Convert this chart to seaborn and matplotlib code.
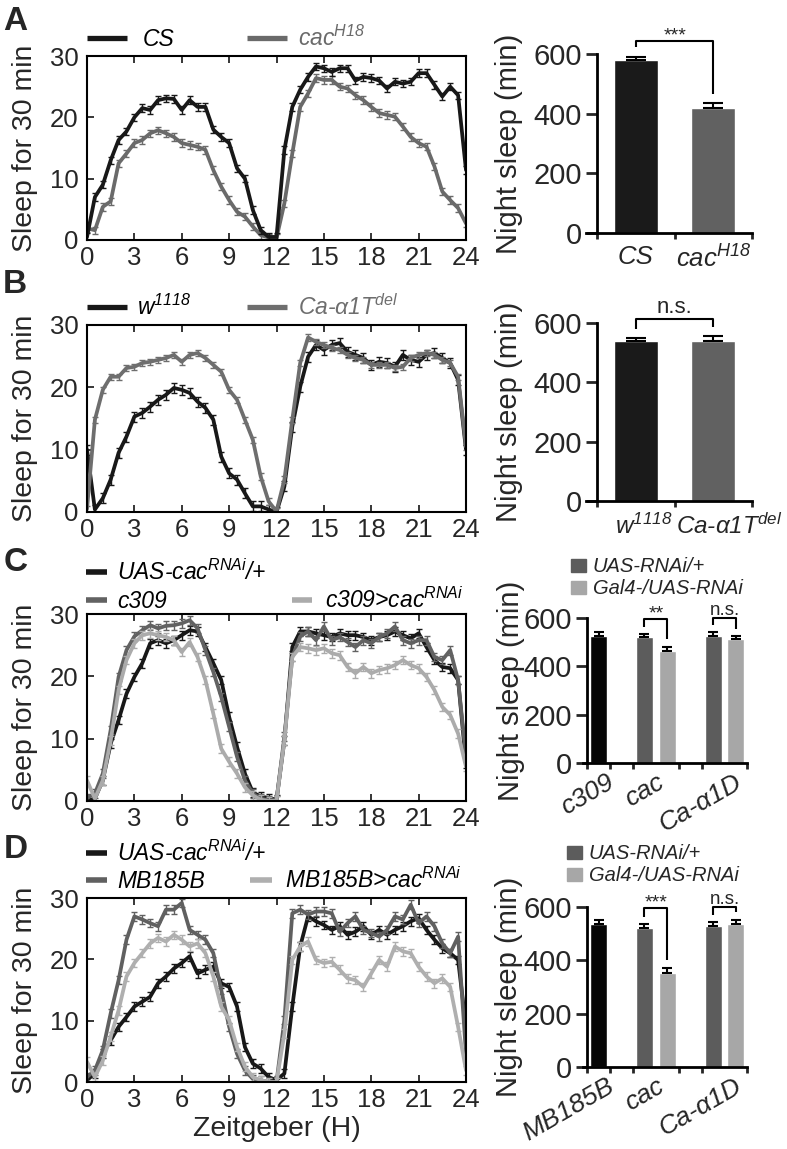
import numpy as np
import pandas as pd
import matplotlib
matplotlib.use("Agg")
import matplotlib.pyplot as plt
from matplotlib.lines import Line2D
from matplotlib.patches import Rectangle
import seaborn as sns

# ---------------- data ----------------
hours = np.arange(0, 24.5, 0.5)

# panel A: sleep profile
A_cs = [0.5, 7, 9, 13, 16.3, 17.7, 20, 21.5, 21.2, 22.8, 23.1, 23, 21.2, 22.8, 21.7, 21.7,
        18, 16.8, 15.8, 11.7, 10, 4.9, 1.6, 0.5, 0.5, 14.7, 21.7, 24.5, 26.6, 28.3, 28, 27.4,
        28, 28, 26, 26.6, 26.4, 26, 24.7, 25.8, 25.5, 25.8, 27.2, 27.2, 25.3, 23.4, 25, 23.6, 11.4]
A_cac = [1.9, 1.6, 5.4, 6.3, 12.5, 14.1, 15.8, 16.3, 17.4, 17.9, 17.4, 16.8, 15.8, 15.5, 15.2, 14.7,
         11.4, 8.7, 6.5, 4.6, 3.8, 2.2, 0.8, 0.4, 0.3, 6, 14.1, 21.7, 23.9, 26.4, 26.1, 26.1,
         25, 24.7, 23.6, 22.8, 21.7, 20.7, 20.4, 20.1, 18.5, 16.8, 15.8, 15.2, 12, 7.9, 6.5, 5.2, 2.7]

# panel B
B_w = [10, 0.4, 2.2, 5.2, 9.5, 12.1, 15.3, 15.9, 16.9, 18, 18.8, 19.9, 19.6, 19.1, 17.7, 16.7,
       14.8, 8.9, 6.2, 5.2, 3, 0.9, 0.9, 0.4, 0, 4.1, 13.7, 20.1, 24.9, 26.8, 26, 26.8,
       27.1, 25.7, 25.2, 24.7, 23.6, 24.1, 23.9, 23.3, 25.2, 24.4, 24.1, 25.2, 25.5, 24.7, 23.9, 21.2, 10]
B_ca = [0.5, 14.8, 19.6, 21.7, 21.7, 23.1, 23.3, 23.9, 24.1, 24.4, 24.7, 25.2, 24.1, 25.2, 25.5, 24.7,
        23.6, 22.5, 19.6, 18, 14.8, 11.6, 5.7, 1.7, 0.1, 5.2, 14.8, 23.9, 28, 27.3, 26.8, 26.3,
        26, 25.2, 24.7, 24.4, 23.6, 23.6, 23.6, 23.1, 23.3, 24.7, 25.2, 25.5, 25.2, 24.4, 23.9, 21.7, 10.5]

# panel C
C_uas = [0, 0.4, 3.3, 9.2, 13, 17.2, 19.9, 22.1, 25.3, 25.8, 25.3, 25.8, 26.6, 27.4, 27.2, 24.7,
         22.1, 19.4, 13.5, 8.7, 4.4, 1.4, 0.7, 0.5, 0.2, 9.7, 24.7, 27.2, 27.2, 26.9, 26.6, 26.3,
         26.9, 26.6, 26.6, 26.3, 25.8, 26.3, 26.6, 27.2, 26.6, 26.1, 26.9, 24.7, 22.6, 21.5, 21.3, 19.4, 6]
C_gal = [0.5, 1.2, 4.4, 11.4, 19.9, 24.2, 26.4, 27.4, 28.2, 27.7, 28.1, 28.2, 28.5, 29, 27.7, 24.2,
         20.7, 16.7, 11.9, 7.1, 3.3, 1.2, 0.4, 0.1, 0.1, 10.3, 23.1, 26.4, 27.2, 25.8, 28, 25.8,
         26.3, 25.5, 24.7, 25.8, 25.3, 26.3, 26.9, 28, 25.8, 25.3, 25.8, 25.8, 23.1, 22.6, 24.2, 19.4, 7.1]
C_kd = [3.3, 0.4, 3.3, 9.7, 17.8, 22.6, 25.3, 26.6, 26.9, 26.6, 26.3, 25.8, 23.9, 25.5, 23.1, 19.4,
        14, 8.4, 6.3, 4.4, 2.2, 0.9, 0.2, 0, 0.1, 9.7, 23.1, 24.7, 24.5, 24.2, 24.5, 23.7,
        23.4, 21.5, 20.5, 21.5, 20.5, 21, 21.3, 21.8, 22.6, 21.8, 21.3, 19.9, 17.8, 15.1, 13.8, 10.8, 5.5]

# panel D
D_uas = [0.3, 1.4, 4.6, 6.8, 9, 10.6, 12.3, 13.1, 13.9, 16.1, 17.2, 18.5, 19.4, 20.5, 17.7, 18.3,
         18.8, 16.1, 15.5, 12.3, 5.7, 3, 2.2, 0.8, 0.3, 1.4, 12.3, 22.1, 27, 26.2, 25.6, 24.8,
         25.4, 24, 24.5, 25.4, 24, 24.8, 24, 24.8, 25.4, 26.2, 26.7, 24.8, 23.2, 21.8, 21, 19.9, 9]
D_gal = [0.8, 1.9, 5.2, 11.2, 16.6, 23.2, 27, 26.5, 25.9, 25.4, 28.1, 28.1, 29.2, 24.8, 24, 23.2,
         21, 15, 9, 4.6, 1.9, 0.5, 0.3, 0, 0, 10.1, 27.5, 28.1, 27.3, 27.8, 27.8, 27.5,
         24.5, 25.9, 27, 24.8, 24.3, 23.7, 24.8, 27, 26.5, 28.9, 25.9, 27, 25.4, 22.6, 21, 23.7, 4.6]
D_kd = [3.3, 0.8, 3.5, 7.4, 11.7, 17.2, 19.4, 21, 22.6, 23.5, 22.9, 24, 23.2, 22.1, 22.6, 21,
        17.2, 12.3, 10.1, 5.7, 2.5, 0.8, 0.3, 0, 0, 7.9, 19.9, 22.1, 22.9, 19.9, 19.4, 19.6,
        18.3, 16.9, 16.6, 15.5, 17.7, 19.9, 18.8, 22.1, 21.3, 21, 18.8, 17.2, 16.1, 16.9, 15.5, 9, 1.9]

# typical SEM of each profile
A_sem = [0.6, 0.6]
B_sem = [0.8, 0.5]
C_sem = [0.7, 0.7, 0.7]
D_sem = [0.7, 0.7, 0.7]

# night sleep bars (min)
A_names = ["CS", "cac$^{H18}$"]
A_night = [580, 420]
A_night_err = [10, 15]
B_names = ["w$^{1118}$", "Ca-α1T$^{del}$"]
B_night = [538, 538]
B_night_err = [11, 17]

groups_C = ["c309", "cac", "Ca-α1D"]
C_ctrl, C_ctrl_err = 527, 15
C_rnai_uas, C_rnai_uas_err = [521, 525], [13, 17]
C_rnai_gal, C_rnai_gal_err = [463, 514], [19, 11]

groups_D = ["MB185B", "cac", "Ca-α1D"]
D_ctrl, D_ctrl_err = 537, 13
D_rnai_uas, D_rnai_uas_err = [523, 527], [13, 16]
D_rnai_gal, D_rnai_gal_err = [353, 537], [18, 13]

# ---------------- style ----------------
W, H = 787, 1149
BLACK = "#181818"
LIGHT = "#ababab"

sns.set_style("ticks")
plt.rcParams["font.family"] = ["Liberation Sans", "DejaVu Sans"]
plt.rcParams["mathtext.fontset"] = "custom"
plt.rcParams["mathtext.rm"] = "Liberation Sans:italic"
plt.rcParams["mathtext.it"] = "Liberation Sans:italic"
plt.rcParams["mathtext.bf"] = "Liberation Sans:bold"

fig = plt.figure(figsize=(W / 100, H / 100), dpi=100)


def fx(x):
    return x / W


def fy(y):
    return 1 - y / H


def box(l, t, r, b):
    return fig.add_axes([l / W, 1 - b / H, (r - l) / W, (b - t) / H])


def legend_line(x0, x1, y, color, label, tx, tcolor="black", lw=3.8, size=16.5):
    fig.add_artist(Line2D([fx(x0), fx(x1)], [fy(y), fy(y)], color=color, lw=lw,
                          solid_capstyle="butt", transform=fig.transFigure))
    fig.text(fx(tx), fy(y + size * 100 / 72 * 0.36), label, color=tcolor, fontsize=size,
             fontstyle="italic", ha="left", va="baseline")


def legend_box(x, y, color, label, size=14.5):
    fig.add_artist(Rectangle((fx(x), fy(y + 7)), 15 / W, 13 / H, color=color,
                             transform=fig.transFigure))
    fig.text(fx(x + 22), fy(y + size * 100 / 72 * 0.36), label, fontsize=size,
             fontstyle="italic", ha="left", va="baseline")


def profile_panel(top, bottom, series, xlabel=False):
    ax = box(87, top, 466, bottom)
    for vals, color, sem in series:
        sns.lineplot(x=hours, y=vals, color=color, lw=2.7, errorbar=None, ax=ax)
        ax.errorbar(hours, vals, yerr=sem, fmt="none", ecolor=color, elinewidth=1,
                    capsize=2.5, capthick=1)
    ax.set_xlim(0, 24)
    ax.set_ylim(0, 30)
    ax.set_xticks(range(0, 25, 3))
    ax.set_yticks([0, 10, 20, 30])
    ax.tick_params(direction="in", top=True, right=False, length=5, width=1.3,
                   labelsize=18.5)
    ax.tick_params(axis="y", pad=6)
    ax.tick_params(axis="x", pad=4)
    for s in ax.spines.values():
        s.set_linewidth(1.5)
        s.set_color("black")
    ax.set_ylabel("Sleep for 30 min", fontsize=20.5)
    ax.yaxis.set_label_coords((38 - 87) / 379, 0.5)
    if xlabel:
        ax.set_xlabel("Zeitgeber (H)", fontsize=20.5, labelpad=3)
    else:
        ax.set_xlabel("")
    return ax


def style_bar_axes(ax, label_right_px, left_px, width_px):
    ax.set_ylim(0, 600)
    ax.set_yticks([0, 200, 400, 600])
    ax.spines["top"].set_visible(False)
    ax.spines["right"].set_visible(False)
    for s in ("left", "bottom"):
        ax.spines[s].set_linewidth(2)
        ax.spines[s].set_color("black")
    ax.spines["left"].set_position(("data", -0.5))
    ax.tick_params(axis="y", direction="out", length=8, width=2, labelsize=21, pad=3)
    ax.tick_params(axis="x", which="major", length=0, labelsize=18.5)
    ax.tick_params(axis="x", which="minor", direction="out", length=4, width=2)
    ax.set_ylabel("Night sleep (min)", fontsize=21)
    ax.yaxis.set_label_coords((label_right_px - left_px) / width_px, 0.5)
    ax.set_xlabel("")


def bracket(ax, x0, x1, y0, y1, top, text, stars=True, ns_lift=18, ns_size=15):
    ax.plot([x0, x0, x1, x1], [y0, top, top, y1], color="black", lw=1.5,
            clip_on=False, solid_capstyle="butt")
    if stars:
        ax.text((x0 + x1) / 2, top + 2, text, ha="center", va="baseline", fontsize=14,
                clip_on=False)
    else:
        ax.text((x0 + x1) / 2, top + ns_lift, text, ha="center", va="baseline",
                fontsize=ns_size, clip_on=False)


def two_bar_panel(top, bottom, names, vals, errs, colors, sig, sig_top, label_offsets,
                  label_size=18.5):
    left, right = 586.4, 752
    ax = box(left, top, right, bottom)
    sns.barplot(x=names, y=vals, hue=names, palette=dict(zip(names, colors)),
                width=0.57, saturation=1, errorbar=None, legend=False, ax=ax)
    ax.errorbar([0, 1], vals, yerr=[[0, 0], errs], fmt="none", ecolor="black",
                elinewidth=1.5, capsize=7, capthick=1.5)
    ax.set_xlim(-0.64, 1.5)
    style_bar_axes(ax, 523, left, right - left)
    ax.set_xticks([0 + label_offsets[0], 1 + label_offsets[1]])
    ax.set_xticklabels(names, fontstyle="italic", fontsize=label_size)
    ax.set_xticks([-0.5, 0.5, 1.5], minor=True)
    ax.tick_params(axis="x", which="major", pad=9)
    bracket(ax, 0, 1, vals[0] + errs[0] + 32, vals[1] + errs[1] + 30, sig_top, sig,
            stars=sig.startswith("*"), ns_lift=22, ns_size=16)
    return ax


def group_bar_panel(top, bottom, groups, ctrl, ctrl_err, uas, uas_err, gal, gal_err,
                    sigs, sig_tops, label_right_px):
    left, right = 583.2, 747.4
    ax = box(left, top, right, bottom)
    pos = [0, 2, 3, 5, 6]
    kinds = ["ctrl", "UAS-RNAi/+", "Gal4-/UAS-RNAi", "UAS-RNAi/+", "Gal4-/UAS-RNAi"]
    vals = [ctrl, uas[0], gal[0], uas[1], gal[1]]
    errs = [ctrl_err, uas_err[0], gal_err[0], uas_err[1], gal_err[1]]
    df = pd.DataFrame({"pos": pos, "val": vals, "kind": kinds})
    pal = {"ctrl": "#060606", "UAS-RNAi/+": "#5c5c5c", "Gal4-/UAS-RNAi": "#a7a7a7"}
    sns.barplot(data=df, x="pos", y="val", hue="kind", palette=pal, native_scale=True,
                dodge=False, width=0.74, saturation=1, errorbar=None, legend=False, ax=ax)
    ax.errorbar(pos, vals, yerr=[np.zeros(5), errs], fmt="none", ecolor="black",
                elinewidth=1.5, capsize=3.5, capthick=1.5)
    ax.set_xlim(-0.67, 6.5)
    style_bar_axes(ax, label_right_px, left, right - left)
    ax.set_xticks([0.35, 2.5, 5.9])
    ax.set_xticklabels(groups, fontstyle="italic", rotation=30, ha="right",
                       rotation_mode="anchor", fontsize=19)
    ax.set_xticks([-0.5, 0.5, 1.5, 3.5, 4.5, 6.5], minor=True)
    ax.tick_params(axis="x", which="major", pad=5)
    for (a, b), sig, t in zip([(1, 2), (3, 4)], sigs, sig_tops):
        bracket(ax, pos[a], pos[b], vals[a] + errs[a] + 28, vals[b] + errs[b] + 30, t, sig,
                stars=sig.startswith("*"), ns_lift=12, ns_size=13.5)
    return ax


# ---------------- panels ----------------
profile_panel(56, 240, [(A_cac, "#6a6a6a", A_sem[1]), (A_cs, BLACK, A_sem[0])])
profile_panel(325, 512, [(B_w, BLACK, B_sem[0]), (B_ca, "#6e6e6e", B_sem[1])])
profile_panel(614, 801, [(C_uas, BLACK, C_sem[0]), (C_gal, "#626262", C_sem[1]),
                         (C_kd, LIGHT, C_sem[2])])
profile_panel(898, 1082, [(D_uas, BLACK, D_sem[0]), (D_gal, "#606060", D_sem[1]),
                          (D_kd, "#afafaf", D_sem[2])], xlabel=True)

two_bar_panel(54, 233, A_names, A_night, A_night_err, ["#1a1a1a", "#616161"], "***", 645,
              [0, 0])
two_bar_panel(323, 501, B_names, B_night, B_night_err, ["#1a1a1a", "#616161"], "n.s.", 612,
              [0.1, 0.2], label_size=17.5)
group_bar_panel(618, 763, groups_C, C_ctrl, C_ctrl_err, C_rnai_uas, C_rnai_uas_err,
                C_rnai_gal, C_rnai_gal_err, ["**", "n.s."], [596, 600], 525)
group_bar_panel(907, 1067, groups_D, D_ctrl, D_ctrl_err, D_rnai_uas, D_rnai_uas_err,
                D_rnai_gal, D_rnai_gal_err, ["***", "n.s."], [596, 600], 523)

# ---------------- legends ----------------
legend_line(87, 127, 38, BLACK, "CS", 143)
legend_line(247, 287, 38, "#6a6a6a", "cac$^{H18}$", 298, tcolor="#6a6a6a")
legend_line(87, 127, 307, BLACK, "w$^{1118}$", 137)
legend_line(247, 287, 307, "#6e6e6e", "Ca-α1T$^{del}$", 298, tcolor="#6e6e6e")

legend_line(86, 107, 572, BLACK, "UAS-cac$^{RNAi}$/+", 117, lw=4)
legend_line(86, 107, 600, "#626262", "c309", 117, lw=4)
legend_line(292, 312, 600, LIGHT, "c309>cac$^{RNAi}$", 325, lw=4)

legend_line(86, 107, 853, BLACK, "UAS-cac$^{RNAi}$/+", 117, lw=4)
legend_line(86, 107, 880, "#606060", "MB185B", 117, lw=4)
legend_line(250, 272, 880, "#afafaf", "MB185B>cac$^{RNAi}$", 285, lw=4)

legend_box(571, 565, "#5c5c5c", "UAS-RNAi/+")
legend_box(571, 587, "#a7a7a7", "Gal4-/UAS-RNAi")
legend_box(567, 852, "#5c5c5c", "UAS-RNAi/+")
legend_box(567, 874, "#a7a7a7", "Gal4-/UAS-RNAi")

# panel letters
for letter, x, y in [("A", 15, 21), ("B", 15, 284), ("C", 16, 562), ("D", 16, 850)]:
    fig.text(fx(x), fy(y), letter, fontsize=24, fontweight="bold", ha="center", va="center")

fig.savefig("out.png", dpi=100)
